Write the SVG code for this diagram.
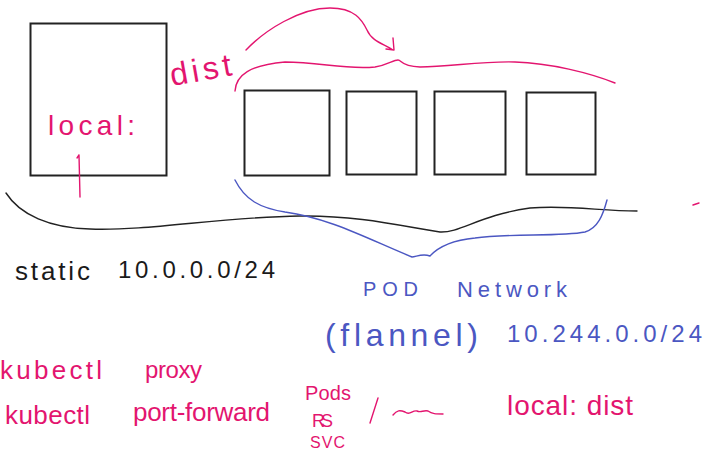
<svg xmlns="http://www.w3.org/2000/svg" width="705" height="453" viewBox="0 0 705 453">
  <style>
    .box { fill: #ffffff; stroke: #222222; stroke-width: 2; }
    .ink { fill: none; stroke-linecap: round; stroke-linejoin: round; stroke-width: 1.4; }
    .pink { stroke: #e3156f; }
    .blue { stroke: #4b57c2; }
    .black { stroke: #222222; }
    .t { font-family: "Liberation Sans", Arial, sans-serif; }
    .tp { fill: #e3156f; }
    .tb { fill: #4b57c2; }
    .tk { fill: #1a1a1a; }
  </style>
  <rect width="705" height="453" fill="#ffffff"/>

  <!-- host machine -->
  <g id="host">
    <rect class="box" x="30.5" y="23.5" width="136" height="152"/>
    <text class="t tp" x="48" y="135" font-size="28" textLength="87" lengthAdjust="spacing">local:</text>
    <path class="ink pink" d="M79,155 L80,197 M77,158 L79,155"/>
  </g>

  <!-- pods -->
  <g id="pod1"><rect class="box" x="244.5" y="90.5" width="85" height="85"/></g>
  <g id="pod2"><rect class="box" x="346.5" y="91.5" width="70" height="83"/></g>
  <g id="pod3"><rect class="box" x="434.5" y="91.5" width="71" height="83"/></g>
  <g id="pod4"><rect class="box" x="526.5" y="92.5" width="69" height="82"/></g>

  <!-- connectors and braces -->
  <g id="connectors">
    <path class="ink black" d="M6,193 C20,215 50,228 90,229 C150,231 220,217 300,216 C360,215 410,228 440,232 C460,233 480,215 530,208 C570,205 600,211 637,211"/>
    <path class="ink blue" d="M235,180 C245,200 260,208 285,212 C330,218 370,240 412,257 C416,257 422,253 430,256 C440,245 455,240 475,238 C510,233 560,237 585,232 C598,228 603,215 607,200"/>
    <path class="ink pink" d="M235,91 C236,75 250,65 285,62 C320,62 345,70 375,67 C388,65 393,60 398,60 C402,60 400,66 420,67 C450,67 480,61 515,62 C550,63 590,73 615,83"/>
    <path class="ink pink" d="M246,50 C265,30 300,8 330,8 C355,8 362,20 367,30 C372,42 385,44 393,50 M386,49 L394,50 L393,38"/>
    <path class="ink pink" d="M693,205 L699,203"/>
  </g>

  <!-- labels -->
  <text class="t tp" x="172" y="86" font-size="32" textLength="62" lengthAdjust="spacing" transform="rotate(-10 172 86)">dist</text>

  <text class="t tk" x="15" y="280" font-size="26" textLength="75" lengthAdjust="spacing">static</text>
  <text class="t tk" x="118" y="278" font-size="24" textLength="157" lengthAdjust="spacing">10.0.0.0/24</text>

  <text class="t tb" x="363" y="296" font-size="20" textLength="55" lengthAdjust="spacing">POD</text>
  <text class="t tb" x="457" y="297" font-size="22" textLength="110" lengthAdjust="spacing">Network</text>
  <text class="t tb" x="325" y="346" font-size="32" textLength="153" lengthAdjust="spacing">(flannel)</text>
  <text class="t tb" x="507" y="342" font-size="24" textLength="195" lengthAdjust="spacing">10.244.0.0/24</text>

  <text class="t tp" x="0" y="379" font-size="26" textLength="102" lengthAdjust="spacing">kubectl</text>
  <text class="t tp" x="145" y="378" font-size="24" textLength="57" lengthAdjust="spacing">proxy</text>
  <text class="t tp" x="5" y="424" font-size="26" textLength="85" lengthAdjust="spacing">kubectl</text>
  <text class="t tp" x="133" y="421" font-size="26" textLength="137" lengthAdjust="spacing">port-forward</text>

  <text class="t tp" x="305" y="400" font-size="20" textLength="46" lengthAdjust="spacing">Pods</text>
  <text class="t tp" x="312" y="427" font-size="18" textLength="21" lengthAdjust="spacing">RS</text>
  <text class="t tp" x="310" y="448" font-size="16" textLength="35" lengthAdjust="spacing">SVC</text>
  <path class="ink pink" d="M370,423 L378,398 M393,415 C397,410 400,410 405,412 C410,416 412,410 417,411 C421,413 423,410 428,411 C432,414 436,414 443,414"/>
  <text class="t tp" x="507" y="415" font-size="28" textLength="126" lengthAdjust="spacing">local: dist</text>
</svg>
